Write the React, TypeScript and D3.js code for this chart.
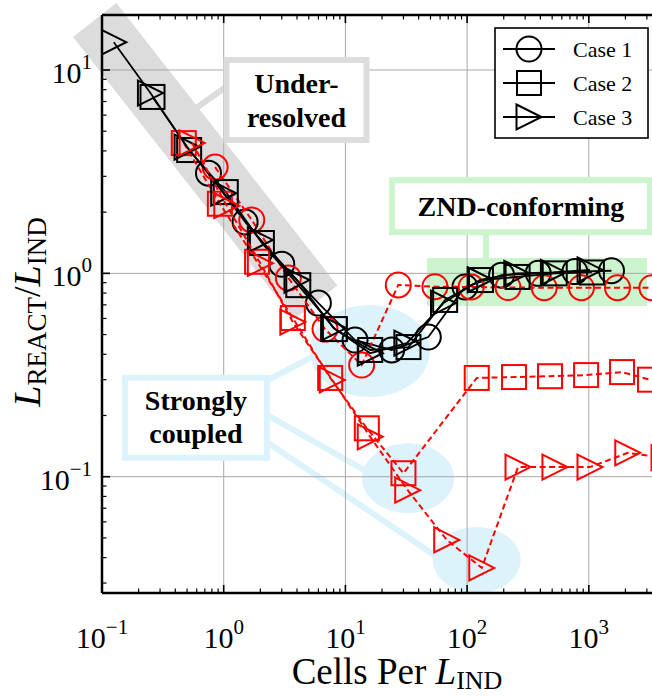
import React from 'react';
import * as d3 from 'd3';

const W = 652;
const H = 696;
const FONT = 'Liberation Serif';

// Case 1 (circles)
const case1X = [0.75, 1.5, 3, 6, 12, 24, 48, 96, 192, 384, 768, 1536];
const case1Y = [3.11, 1.79, 1.11, 0.714, 0.47, 0.42, 0.486, 0.857, 0.98, 1.0, 1.02, 1.03];
const case1RedX = [0.85, 1.7, 3.4, 6.8, 13.6, 27.2, 54.4, 108, 217, 430, 870, 1720, 3300];
const case1RedY = [3.33, 1.83, 0.95, 0.532, 0.354, 0.877, 0.86, 0.857, 0.852, 0.85, 0.85, 0.85, 0.85];

// Case 2 (squares)
const case2X = [0.26, 0.52, 1.04, 2.06, 4.1, 8.2, 16, 33, 66, 130, 260, 525, 1060];
const case2Y = [7.37, 4.04, 2.51, 1.41, 0.875, 0.532, 0.42, 0.434, 0.74, 0.927, 0.96, 1.0, 1.01];
const case2RedX = [0.47, 0.93, 1.88, 3.7, 7.5, 15, 30, 120, 243, 480, 950, 1875, 3184];
const case2RedY = [4.37, 2.2, 1.14, 0.603, 0.306, 0.173, 0.104, 0.306, 0.309, 0.312, 0.316, 0.327, 0.3];

// Case 3 (right triangles)
const case3X = [0.125, 0.25, 0.5, 1, 2, 4, 8, 16, 32, 64, 128, 256, 512, 1024];
const case3Y = [13.7, 7.7, 4.18, 2.48, 1.46, 0.927, 0.538, 0.405, 0.454, 0.714, 0.93, 1.0, 1.01, 1.04];
const case3RedX = [0.55, 1.06, 2.0, 3.7, 7.8, 16, 32.5, 68, 132, 262, 527, 1023, 2090, 4150];
const case3RedY = [4.38, 2.15, 1.12, 0.576, 0.299, 0.157, 0.0859, 0.0489, 0.0356, 0.1115, 0.1115, 0.1115, 0.131, 0.124];

const legendLabels = ['Case 1', 'Case 2', 'Case 3'];
const xTickValues = [0.1, 1, 10, 100, 1000];
const xTickExps = ['−1', '0', '1', '2', '3'];
const yTickValues = [0.1, 1, 10];
const yTickExps = ['−1', '0', '1'];

// annotation anchors, data coordinates
const underBand = [[0.087, 17.6], [5.7, 0.72]];
const underLink = [[1.1, 8.44], [0.48, 5.94]];
const underBoxAt = [3.96, 7.12];
const zndBand = [[46.8, 0.906], [3006, 0.906]];
const zndLink = [[143, 1.6], [143, 0.95]];
const zndBoxAt = [277, 2.14];
const coupledBoxAt = [0.591, 0.195];
const coupledSpots = [[15.9, 0.415], [32.7, 0.0984], [120, 0.0389]];
const coupledLinks = [
  [[1.81, 0.2765], [9.03, 0.457]],
  [[1.81, 0.2175], [17.5, 0.1007]],
  [[1.81, 0.162], [65.8, 0.038]],
];

const GRAY = '#dcdcdc';
const GREEN = '#cdf5cd';
const BLUE = '#dcf3fb';

const series = [
  { xs: case1X, ys: case1Y, marker: 'circle', color: '#000', dashed: false },
  { xs: case1RedX, ys: case1RedY, marker: 'circle', color: '#ff0000', dashed: true },
  { xs: case2X, ys: case2Y, marker: 'square', color: '#000', dashed: false },
  { xs: case2RedX, ys: case2RedY, marker: 'square', color: '#ff0000', dashed: true },
  { xs: case3X, ys: case3Y, marker: 'triangle', color: '#000', dashed: false },
  { xs: case3RedX, ys: case3RedY, marker: 'triangle', color: '#ff0000', dashed: true },
];

function Marker({ type, cx, cy, color }: { type: string; cx: number; cy: number; color: string }) {
  const common = { fill: 'none', stroke: color, strokeWidth: 2 };
  if (type === 'circle') return <circle cx={cx} cy={cy} r={12.5} {...common} />;
  if (type === 'square') return <rect x={cx - 12} y={cy - 12} width={24} height={24} {...common} />;
  return <path d={`M${cx - 12.5},${cy - 12.5}L${cx + 12.5},${cy}L${cx - 12.5},${cy + 12.5}Z`} {...common} />;
}

export default function App() {
  const x = d3.scaleLog().domain([0.1, 7000]).range([102, 102 + 121.7 * Math.log10(70000)]);
  const y = d3.scaleLog().domain([0.0268, 18.64]).range([593, 15]);
  const [x0, x1] = x.range();
  const [y0, y1] = y.range();

  const line = d3.line<[number, number]>().x((d) => x(d[0])).y((d) => y(d[1]));

  const xMinor = x.ticks().filter((v) => !xTickValues.includes(v));
  const yMinor = y.ticks().filter((v) => !yTickValues.includes(v));

  const pt = (p: number[]) => [x(p[0]), y(p[1])];

  const box = (at: number[], hw: number, hh: number, color: string, lines: string[], offs: number[]) => {
    const [cx, cy] = pt(at);
    return (
      <g>
        <rect x={cx - hw} y={cy - hh} width={hw * 2} height={hh * 2} fill="#fff" stroke={color} strokeWidth={6} />
        {lines.map((t, i) => (
          <text key={t} x={cx} y={cy + offs[i]} textAnchor="middle" style={{ fontFamily: FONT, fontWeight: 'bold', fontSize: 28 }}>
            {t}
          </text>
        ))}
      </g>
    );
  };

  const [ub0, ub1] = underBand.map(pt);
  const [zb0, zb1] = zndBand.map(pt);

  return (
    <svg width={W} height={H} style={{ position: 'absolute', left: 0, top: 0, background: '#fff' }}>
      <defs>
        <clipPath id="plot">
          <rect x={x0} y={y1} width={x1 - x0} height={y0 - y1} />
        </clipPath>
      </defs>

      {/* highlight bands and spots */}
      <line x1={ub0[0]} y1={ub0[1]} x2={ub1[0]} y2={ub1[1]} stroke={GRAY} strokeWidth={55} />
      <line x1={zb0[0]} y1={zb0[1]} x2={zb1[0]} y2={zb1[1]} stroke={GREEN} strokeWidth={48} />
      {coupledSpots.map((s, i) => {
        const [cx, cy] = pt(s);
        const r = [[60, 46], [46, 35], [44, 33]][i];
        return <ellipse key={i} cx={cx} cy={cy} rx={r[0]} ry={r[1]} fill={BLUE} />;
      })}

      {/* connectors */}
      {[underLink].map((l, i) => {
        const [a, b] = l.map(pt);
        return <line key={i} x1={a[0]} y1={a[1]} x2={b[0]} y2={b[1]} stroke={GRAY} strokeWidth={6} />;
      })}
      {[zndLink].map((l, i) => {
        const [a, b] = l.map(pt);
        return <line key={i} x1={a[0]} y1={a[1]} x2={b[0]} y2={b[1]} stroke={GREEN} strokeWidth={6} />;
      })}
      {coupledLinks.map((l, i) => {
        const [a, b] = l.map(pt);
        return <line key={i} x1={a[0]} y1={a[1]} x2={b[0]} y2={b[1]} stroke={BLUE} strokeWidth={6} />;
      })}

      {/* grid */}
      <g stroke="#a8a8a8" strokeWidth={1}>
        {xTickValues.filter((v) => v > 0.1).map((v) => (
          <line key={v} x1={x(v)} x2={x(v)} y1={y1} y2={y0} />
        ))}
        {yTickValues.map((v) => (
          <line key={v} x1={x0} x2={x1} y1={y(v)} y2={y(v)} />
        ))}
      </g>

      {/* annotation boxes */}
      {box(underBoxAt, 70, 40, GRAY, ['Under-', 'resolved'], [-7, 27])}
      {box(zndBoxAt, 129, 26, GREEN, ['ZND-conforming'], [10])}
      {box(coupledBoxAt, 71, 40, BLUE, ['Strongly', 'coupled'], [-7.5, 25.5])}

      {/* data */}
      <g clipPath="url(#plot)">
        {series.map((s, i) => {
          const pts = s.xs.map((v, j) => [v, s.ys[j]] as [number, number]);
          return (
            <g key={i}>
              <path
                d={line(pts) || ''}
                fill="none"
                stroke={s.color}
                strokeWidth={s.dashed ? 2 : 1.8}
                strokeDasharray={s.dashed ? '6,3.5' : undefined}
              />
              {pts.map((p, j) => (
                <Marker key={j} type={s.marker} cx={x(p[0])} cy={y(p[1])} color={s.color} />
              ))}
            </g>
          );
        })}
      </g>

      {/* axes frame */}
      <g stroke="#000" fill="none">
        <line x1={x0} x2={x1} y1={y0} y2={y0} strokeWidth={2.5} />
        <line x1={x0} x2={x1} y1={y1} y2={y1} strokeWidth={2.5} />
        <line x1={x0} x2={x0} y1={y1} y2={y0} strokeWidth={2.5} />
        <line x1={x1} x2={x1} y1={y1} y2={y0} strokeWidth={2.5} />
        {xTickValues.map((v) => (
          <g key={v}>
            <line x1={x(v)} x2={x(v)} y1={y0} y2={y0 - 8} strokeWidth={1.6} />
            <line x1={x(v)} x2={x(v)} y1={y1} y2={y1 + 8} strokeWidth={1.6} />
          </g>
        ))}
        {xMinor.map((v) => (
          <g key={v}>
            <line x1={x(v)} x2={x(v)} y1={y0} y2={y0 - 4.5} strokeWidth={1.2} />
            <line x1={x(v)} x2={x(v)} y1={y1} y2={y1 + 4.5} strokeWidth={1.2} />
          </g>
        ))}
        {yTickValues.map((v) => (
          <line key={v} x1={x0} x2={x0 + 8} y1={y(v)} y2={y(v)} strokeWidth={1.6} />
        ))}
        {yMinor.map((v) => (
          <line key={v} x1={x0} x2={x0 + 4.5} y1={y(v)} y2={y(v)} strokeWidth={1.2} />
        ))}
      </g>

      {/* tick labels */}
      <g fill="#000">
        {xTickValues.map((v, i) => (
          <text key={v} x={x(v)} y={648} textAnchor="middle" style={{ fontFamily: FONT, fontSize: 30 }}>
            10
            <tspan dy={-14} style={{ fontSize: 21 }}>{xTickExps[i]}</tspan>
          </text>
        ))}
        {yTickValues.map((v, i) => (
          <text key={v} x={92} y={y(v) + 13} textAnchor="end" style={{ fontFamily: FONT, fontSize: 30 }}>
            10
            <tspan dy={-14} style={{ fontSize: 21 }}>{yTickExps[i]}</tspan>
          </text>
        ))}
      </g>

      {/* axis labels */}
      <text x={397} y={684} textAnchor="middle" style={{ fontFamily: FONT, fontSize: 37 }}>
        Cells Per <tspan style={{ fontStyle: 'italic' }}>L</tspan>
        <tspan dy={5} style={{ fontSize: 26 }}>IND</tspan>
      </text>
      <text transform="translate(40,312) rotate(-90)" textAnchor="middle" style={{ fontFamily: FONT, fontSize: 38 }}>
        <tspan style={{ fontStyle: 'italic' }}>L</tspan>
        <tspan dy={6} style={{ fontSize: 27 }}>REACT</tspan>
        <tspan dy={-6}>/</tspan>
        <tspan style={{ fontStyle: 'italic' }}>L</tspan>
        <tspan dy={6} style={{ fontSize: 27 }}>IND</tspan>
      </text>

      {/* legend */}
      <g>
        <rect x={495} y={28} width={153} height={110} fill="#fff" stroke="#000" strokeWidth={1.6} />
        {legendLabels.map((t, i) => {
          const cy = 49 + i * 34;
          return (
            <g key={t}>
              <line x1={503} x2={555} y1={cy} y2={cy} stroke="#000" strokeWidth={1.8} />
              <Marker type={['circle', 'square', 'triangle'][i]} cx={529} cy={cy} color="#000" />
              <text x={573} y={cy + 8} style={{ fontFamily: FONT, fontSize: 22 }}>
                {t}
              </text>
            </g>
          );
        })}
      </g>
    </svg>
  );
}
